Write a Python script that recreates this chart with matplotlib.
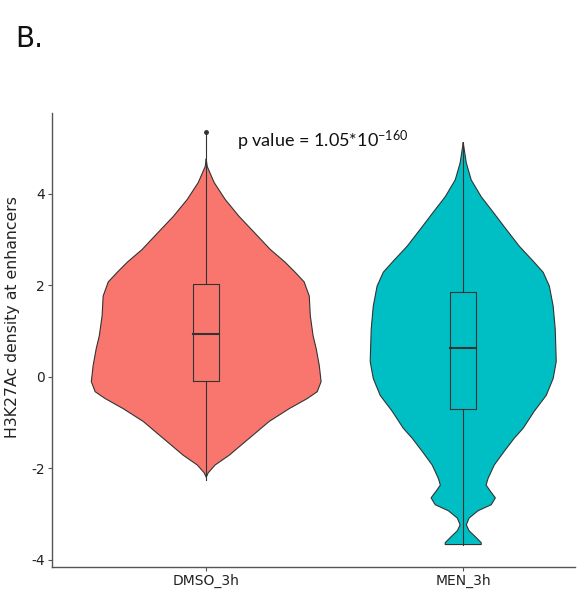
import numpy as np
import matplotlib
matplotlib.use('Agg')
import matplotlib.pyplot as plt

plt.rcParams['font.family'] = ['DejaVu Sans']
plt.rcParams['mathtext.default'] = 'regular'

# groups and colours
groups = ['DMSO_3h', 'MEN_3h']
colors = ['#F8766D', '#00BFC4']

# violin outline: y level and half width (x units)
dmso_y = [4.75, 4.59, 4.24, 3.87, 3.50, 3.15, 2.78, 2.50, 2.28, 2.07, 1.76,
          1.33, 0.89, 0.61, 0.24, -0.11, -0.33, -0.48, -0.70, -0.98, -1.35,
          -1.72, -1.93, -2.10, -2.2]
dmso_w = [0.0, 0.004, 0.031, 0.074, 0.128, 0.187, 0.249, 0.307, 0.346, 0.381,
          0.401, 0.405, 0.416, 0.428, 0.44, 0.447, 0.432, 0.393, 0.323, 0.245,
          0.167, 0.089, 0.035, 0.008, 0.0]

men_y = [5.11, 4.67, 4.30, 3.93, 3.59, 3.22, 2.85, 2.50, 2.28, 1.98, 1.54,
         1.04, 0.33, -0.04, -0.41, -0.76, -1.13, -1.35, -1.63, -1.93, -2.22,
         -2.37, -2.50, -2.65, -2.80, -2.93, -3.09, -3.24, -3.37, -3.52, -3.63,
         -3.67]
men_w = [0.0, 0.012, 0.031, 0.07, 0.117, 0.167, 0.218, 0.276, 0.311, 0.335,
         0.35, 0.358, 0.362, 0.35, 0.323, 0.276, 0.233, 0.198, 0.16, 0.121,
         0.097, 0.089, 0.105, 0.125, 0.109, 0.058, 0.023, 0.012, 0.023, 0.051,
         0.07, 0.07]

# box statistics: lower whisker, q1, median, q3, upper whisker
dmso_box = [-2.25, -0.1, 0.93, 2.02, 5.3]
men_box = [-3.67, -0.7, 0.63, 1.85, 5.1]
dmso_outliers = [5.35]
men_outliers = []

fig = plt.figure(figsize=(5.81, 5.97), dpi=100)
ax = fig.add_axes([0.0895, 0.0503, 0.9002, 0.7604])

edge = '#333333'
profiles = [(dmso_y, dmso_w), (men_y, men_w)]
boxes = [dmso_box, men_box]
outs = [dmso_outliers, men_outliers]

for i, (yy, ww) in enumerate(profiles):
    pos = i + 1
    yy = np.array(yy)
    ww = np.array(ww)
    ax.fill_betweenx(yy, pos - ww, pos + ww, facecolor=colors[i],
                     edgecolor='none', zorder=1)
    # outline
    xs = np.concatenate([pos - ww, (pos + ww)[::-1], [pos - ww[0]]])
    ys = np.concatenate([yy, yy[::-1], [yy[0]]])
    ax.plot(xs, ys, color=edge, lw=0.8, zorder=2, solid_joinstyle='round')

    lo, q1, med, q3, hi = boxes[i]
    bw = 0.05
    ax.plot([pos, pos], [lo, q1], color=edge, lw=0.8, zorder=3)
    ax.plot([pos, pos], [q3, hi], color=edge, lw=0.8, zorder=3)
    ax.plot([pos - bw, pos + bw, pos + bw, pos - bw, pos - bw],
            [q1, q1, q3, q3, q1], color=edge, lw=0.8, zorder=3)
    ax.plot([pos - bw, pos + bw], [med, med], color=edge, lw=1.5, zorder=3)
    if outs[i]:
        ax.plot([pos] * len(outs[i]), outs[i], 'o', color=edge, ms=2.5, zorder=3)

ax.set_xlim(0.4, 2.435)
ax.set_ylim(-4.16, 5.76)
ax.set_xticks([1, 2])
ax.set_xticklabels(groups, fontsize=10, color='#222222')
ax.set_yticks([-4, -2, 0, 2, 4])
ax.set_yticklabels(['-4', '-2', '0', '2', '4'], fontsize=10, color='#222222')
ax.tick_params(length=3, width=0.8, color='#555555', pad=2)

for s in ['top', 'right']:
    ax.spines[s].set_visible(False)
for s in ['left', 'bottom']:
    ax.spines[s].set_color('#555555')
    ax.spines[s].set_linewidth(1.0)

ax.set_ylabel('H3K27Ac density at enhancers', fontsize=11.3, color='#222222')
ax.yaxis.set_label_coords(-0.061, 0.55)

ax.text(1.12, 5.15, r'p value = 1.05*10$^{-160}$', fontsize=13,
        family=['Lato', 'DejaVu Sans'], color='#111111', va='center', ha='left')

fig.text(0.026, 0.935, 'B.', fontsize=20, color='#111111', va='center', ha='left')

fig.savefig('out.png', dpi=100)
